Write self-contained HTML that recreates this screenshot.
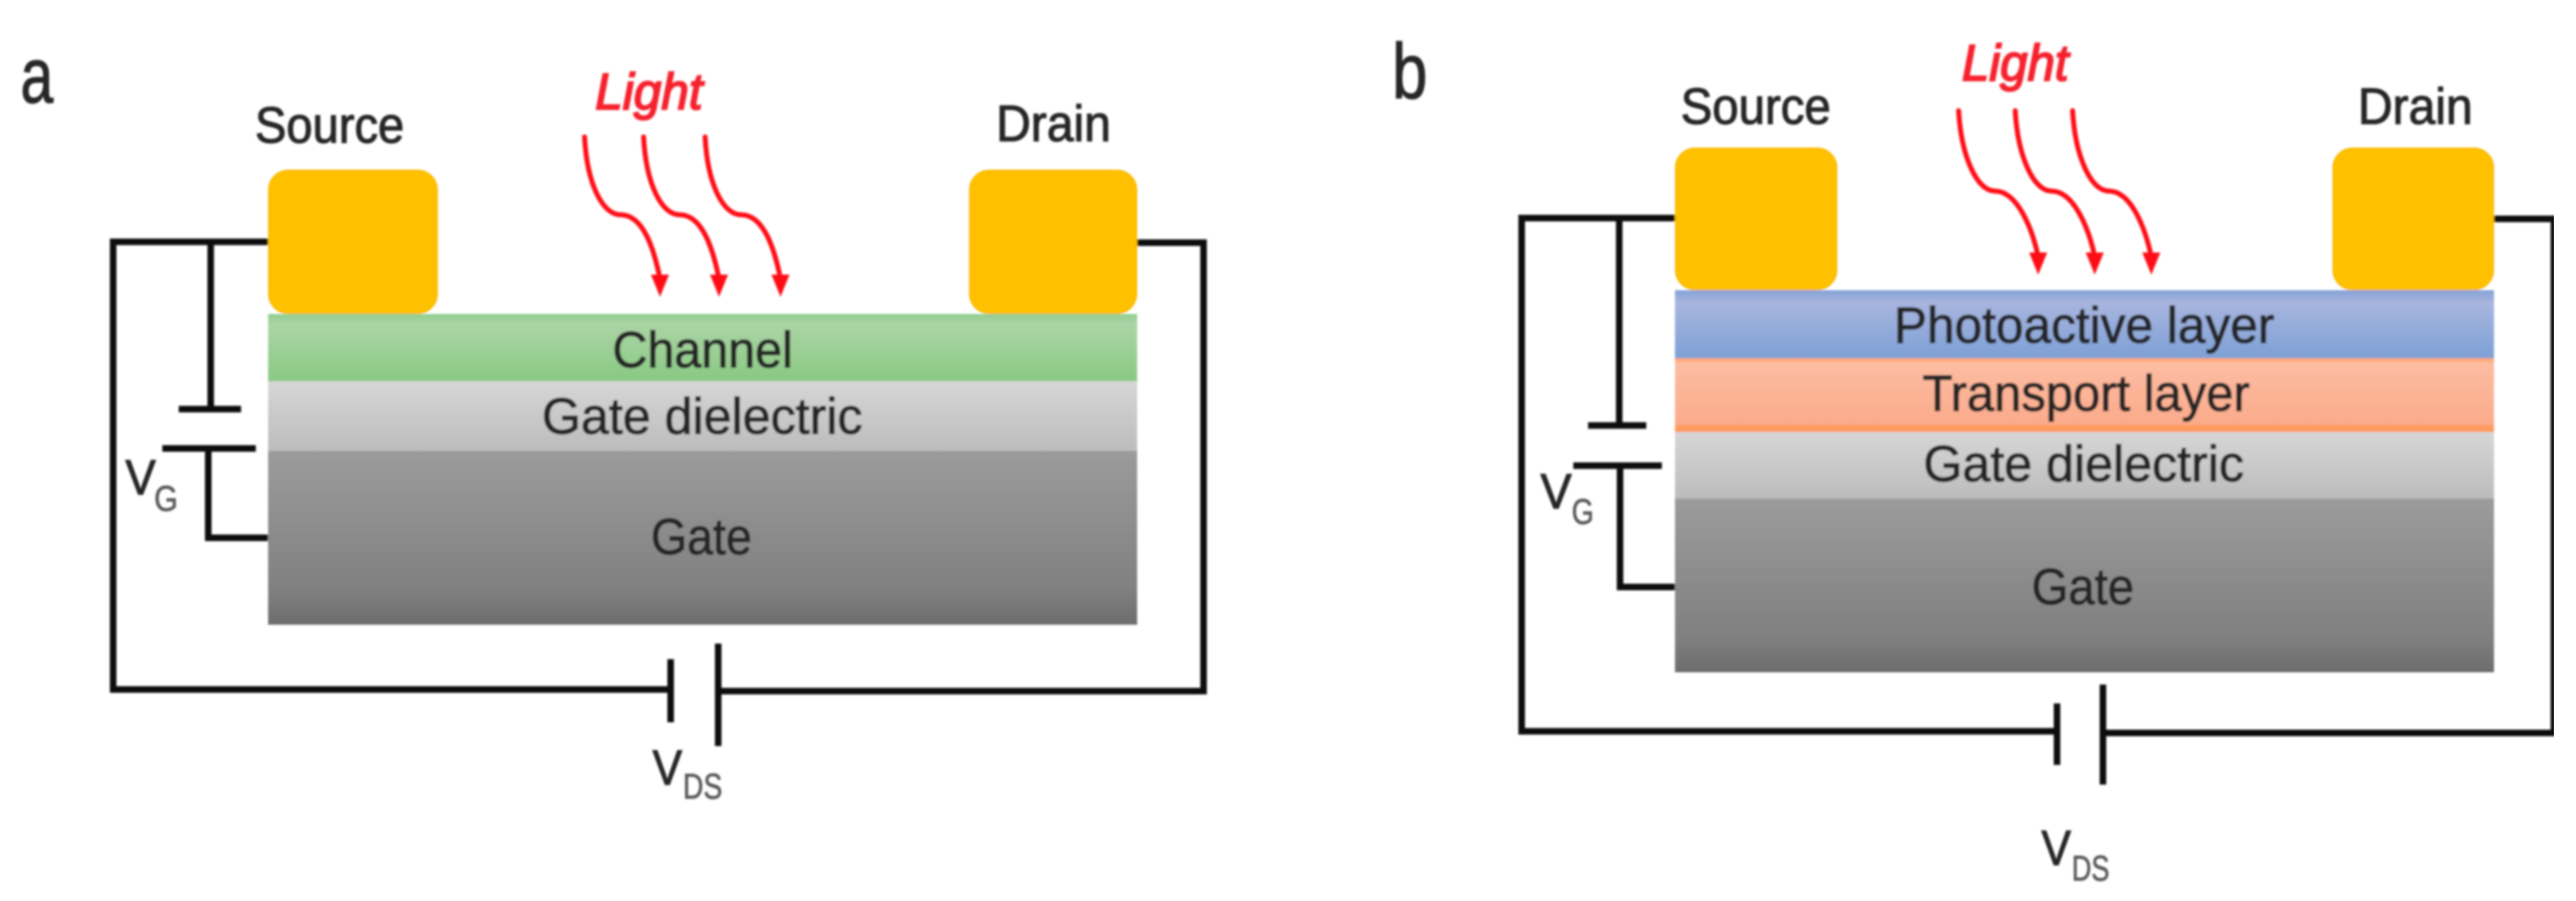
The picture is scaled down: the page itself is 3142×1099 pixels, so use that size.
<!DOCTYPE html>
<html><head><meta charset="utf-8"><style>
html,body{margin:0;padding:0;background:#fff;width:3142px;height:1099px;overflow:hidden}
svg{display:block}
text{font-family:"Liberation Sans",sans-serif;fill:#262626;stroke:#262626;stroke-width:1.3}
.l{fill:#f5222d;stroke:#f5222d;stroke-width:2.2}
.s{fill:#5a5a5a;stroke:#5a5a5a;stroke-width:.8}
</style></head><body>
<svg width="3142" height="1099" viewBox="0 0 3142 1099" xmlns="http://www.w3.org/2000/svg">
<defs>
<linearGradient id="gr" x1="0" y1="0" x2="0" y2="1"><stop offset="0" stop-color="#8fce8e"/><stop offset=".15" stop-color="#acd4a6"/><stop offset="1" stop-color="#88c982"/></linearGradient>
<linearGradient id="di" x1="0" y1="0" x2="0" y2="1"><stop offset="0" stop-color="#d6d6d6"/><stop offset="1" stop-color="#bcbcbc"/></linearGradient>
<linearGradient id="ga" x1="0" y1="0" x2="0" y2="1"><stop offset="0" stop-color="#9b9b9b"/><stop offset=".8" stop-color="#808080"/><stop offset="1" stop-color="#6c6c6c"/></linearGradient>
<linearGradient id="bl" x1="0" y1="0" x2="0" y2="1"><stop offset="0" stop-color="#84a2d6"/><stop offset=".18" stop-color="#a8b5de"/><stop offset="1" stop-color="#7da0d6"/></linearGradient>
<linearGradient id="or" x1="0" y1="0" x2="0" y2="1"><stop offset="0" stop-color="#ff9f66"/><stop offset=".07" stop-color="#fdbca2"/><stop offset=".88" stop-color="#fbab8c"/><stop offset=".93" stop-color="#ff9b5e"/><stop offset="1" stop-color="#ff9b5e"/></linearGradient>
<filter id="b" x="0" y="0" width="100%" height="100%"><feGaussianBlur stdDeviation="1.3"/></filter>
</defs>
<g filter="url(#b)">
<!-- Panel a layers -->
<rect x="327" y="383" width="1060" height="82" fill="url(#gr)"/>
<rect x="327" y="465" width="1060" height="85" fill="url(#di)"/>
<rect x="327" y="550" width="1060" height="212" fill="url(#ga)"/>
<rect x="327.5" y="207.5" width="206" height="175" rx="24" fill="#FFC000" stroke="#f6b400"/>
<rect x="1182.5" y="207.5" width="204" height="175" rx="24" fill="#FFC000" stroke="#f6b400"/>
<!-- Panel a wires -->
<g fill="none" stroke="#111" stroke-width="8">
<path d="M327 295H138V841H818"/>
<path d="M257 295V499"/>
<path d="M218 499H294"/>
<path d="M198 547H312"/>
<path d="M254 547V656H327"/>
<path d="M818 804V881"/>
<path d="M876 785V910"/>
<path d="M876 843H1468V296H1387"/>
</g>
<!-- Panel a arrows -->
<g fill="none" stroke="#ff0a14" stroke-width="6" stroke-linecap="round">
<path d="M713 167C716 225 735 262 757 262C785 262 798 305 805 340"/>
<path d="M785 167C788 225 807 262 829 262C857 262 870 305 877 340"/>
<path d="M860 167C863 225 882 262 904 262C932 262 945 305 952 340"/>
</g>
<g fill="#ff0a14">
<path d="M794 335H816L805 362Z"/>
<path d="M866 335H888L877 362Z"/>
<path d="M941 335H963L952 362Z"/>
</g>
<!-- Panel a text -->
<text x="25" y="125" font-size="96" textLength="40" lengthAdjust="spacingAndGlyphs">a</text>
<text class="l" x="726" y="133" font-size="62" font-style="italic" textLength="131" lengthAdjust="spacingAndGlyphs">Light</text>
<text x="311" y="174" font-size="62" textLength="182" lengthAdjust="spacingAndGlyphs">Source</text>
<text x="1215" y="172" font-size="62" textLength="140" lengthAdjust="spacingAndGlyphs">Drain</text>
<text x="747" y="448" font-size="62" textLength="220" lengthAdjust="spacingAndGlyphs">Channel</text>
<text x="661" y="529" font-size="62" textLength="391" lengthAdjust="spacingAndGlyphs">Gate dielectric</text>
<text x="794" y="676" font-size="62" textLength="123" lengthAdjust="spacingAndGlyphs">Gate</text>
<text x="153" y="603" font-size="60" textLength="37" lengthAdjust="spacingAndGlyphs">V</text>
<text class="s" x="188" y="623" font-size="44" textLength="29" lengthAdjust="spacingAndGlyphs">G</text>
<text x="796" y="957" font-size="60" textLength="36" lengthAdjust="spacingAndGlyphs">V</text>
<text class="s" x="833" y="974" font-size="44" textLength="48" lengthAdjust="spacingAndGlyphs">DS</text>
<!-- Panel b layers -->
<rect x="2043" y="354" width="999" height="83" fill="url(#bl)"/>
<rect x="2043" y="437" width="999" height="90" fill="url(#or)"/>
<rect x="2043" y="527" width="999" height="81" fill="url(#di)"/>
<rect x="2043" y="608" width="999" height="212" fill="url(#ga)"/>
<rect x="2043.5" y="180.5" width="197" height="173" rx="24" fill="#FFC000" stroke="#f6b400"/>
<rect x="2845.5" y="180.5" width="196" height="173" rx="24" fill="#FFC000" stroke="#f6b400"/>
<!-- Panel b wires -->
<g fill="none" stroke="#111" stroke-width="8">
<path d="M2043 266H1856V892H2509"/>
<path d="M1975 266V519"/>
<path d="M1937 519H2008"/>
<path d="M1919 568H2027"/>
<path d="M1976 568V716H2043"/>
<path d="M2509 858V933"/>
<path d="M2565 835V957"/>
<path d="M2565 894H3115V267H3042"/>
</g>
<!-- Panel b arrows -->
<g fill="none" stroke="#ff0a14" stroke-width="6" stroke-linecap="round">
<path d="M2389 135C2392 190 2411 233 2433 233C2461 233 2479 280 2486 313"/>
<path d="M2458 135C2461 190 2480 233 2502 233C2530 233 2548 280 2555 313"/>
<path d="M2528 135C2531 190 2550 233 2572 233C2600 233 2617 280 2624 313"/>
</g>
<g fill="#ff0a14">
<path d="M2475 308H2497L2486 335Z"/>
<path d="M2544 308H2566L2555 335Z"/>
<path d="M2613 308H2635L2624 335Z"/>
</g>
<!-- Panel b text -->
<text x="1698" y="120" font-size="96" textLength="43" lengthAdjust="spacingAndGlyphs">b</text>
<text class="l" x="2393" y="98" font-size="62" font-style="italic" textLength="130" lengthAdjust="spacingAndGlyphs">Light</text>
<text x="2050" y="151" font-size="62" textLength="183" lengthAdjust="spacingAndGlyphs">Source</text>
<text x="2876" y="151" font-size="62" textLength="140" lengthAdjust="spacingAndGlyphs">Drain</text>
<text x="2310" y="418" font-size="62" textLength="464" lengthAdjust="spacingAndGlyphs">Photoactive layer</text>
<text x="2345" y="501" font-size="62" textLength="399" lengthAdjust="spacingAndGlyphs">Transport layer</text>
<text x="2346" y="587" font-size="62" textLength="391" lengthAdjust="spacingAndGlyphs">Gate dielectric</text>
<text x="2478" y="737" font-size="62" textLength="125" lengthAdjust="spacingAndGlyphs">Gate</text>
<text x="1879" y="620" font-size="60" textLength="38" lengthAdjust="spacingAndGlyphs">V</text>
<text class="s" x="1917" y="639" font-size="44" textLength="27" lengthAdjust="spacingAndGlyphs">G</text>
<text x="2490" y="1055" font-size="60" textLength="36" lengthAdjust="spacingAndGlyphs">V</text>
<text class="s" x="2527" y="1074" font-size="44" textLength="46" lengthAdjust="spacingAndGlyphs">DS</text>
</g>
</svg>
</body></html>
